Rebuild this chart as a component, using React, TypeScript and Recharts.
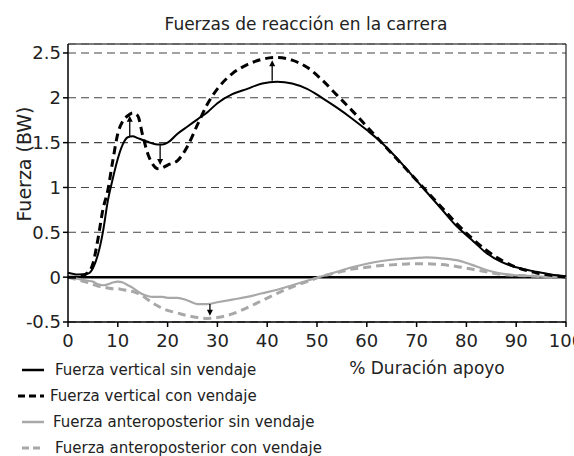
import React from "react";
import { LineChart, Line, XAxis, YAxis, CartesianGrid, ReferenceLine } from "recharts";

// % of stance phase
const pct = [0, 2, 4, 5, 6, 7, 8, 9, 10, 11, 12, 13, 14, 15, 16, 17, 18, 19, 20, 22, 24, 26, 28, 30, 33, 36, 39, 42, 45, 48, 51, 54, 57, 60, 63, 66, 69, 72, 75, 78, 81, 84, 87, 90, 94, 97, 100];

const vertSin = [0.05, 0.03, 0.04, 0.1, 0.25, 0.5, 0.85, 1.1, 1.32, 1.48, 1.56, 1.57, 1.55, 1.53, 1.51, 1.49, 1.48, 1.48, 1.5, 1.6, 1.68, 1.76, 1.84, 1.94, 2.04, 2.1, 2.16, 2.18, 2.16, 2.1, 2.0, 1.89, 1.77, 1.64, 1.5, 1.33, 1.14, 0.95, 0.76, 0.57, 0.42, 0.27, 0.17, 0.11, 0.06, 0.03, 0.01];
const vertCon = [0.0, 0.0, 0.05, 0.15, 0.42, 0.75, 0.97, 1.3, 1.6, 1.74, 1.8, 1.83, 1.8, 1.58, 1.38, 1.26, 1.21, 1.22, 1.25, 1.3, 1.46, 1.7, 1.93, 2.1, 2.27, 2.37, 2.43, 2.45, 2.42, 2.34, 2.2, 2.03, 1.86, 1.68, 1.5, 1.32, 1.14, 0.96, 0.78, 0.6, 0.44, 0.3, 0.19, 0.11, 0.05, 0.02, 0.0];
const apSin = [0, -0.02, -0.04, -0.05, -0.08, -0.09, -0.08, -0.06, -0.05, -0.06, -0.09, -0.12, -0.16, -0.19, -0.21, -0.22, -0.22, -0.22, -0.23, -0.23, -0.26, -0.3, -0.3, -0.28, -0.25, -0.22, -0.18, -0.14, -0.09, -0.04, 0.01, 0.06, 0.11, 0.15, 0.18, 0.2, 0.21, 0.22, 0.21, 0.19, 0.14, 0.08, 0.04, 0.02, 0.01, 0.0, 0];
const apCon = [0, -0.03, -0.06, -0.08, -0.1, -0.11, -0.12, -0.13, -0.13, -0.14, -0.15, -0.16, -0.18, -0.21, -0.25, -0.29, -0.32, -0.35, -0.37, -0.4, -0.43, -0.45, -0.46, -0.45, -0.41, -0.34, -0.26, -0.18, -0.11, -0.05, 0.01, 0.05, 0.09, 0.11, 0.13, 0.14, 0.15, 0.15, 0.14, 0.12, 0.09, 0.06, 0.03, 0.02, 0.01, 0, 0];

// arrows showing the change with taping
const arrowX = [12.4, 18.5, 41, 28.5];
const arrowFrom = [1.57, 1.48, 2.19, -0.3];
const arrowTo = [1.8, 1.25, 2.42, -0.43];

const xTicks = [0, 10, 20, 30, 40, 50, 60, 70, 80, 90, 100];
const yTicks = [-0.5, 0, 0.5, 1, 1.5, 2, 2.5];

const legendLabels = [
  "Fuerza vertical sin vendaje",
  "Fuerza vertical con vendaje",
  "Fuerza anteroposterior sin vendaje",
  "Fuerza anteroposterior con vendaje",
];

const data = pct.map((x, i) => ({
  x,
  vertSin: vertSin[i],
  vertCon: vertCon[i],
  apSin: apSin[i],
  apCon: apCon[i],
}));

const FONT = "'DejaVu Sans', sans-serif";
const GRAY = "#a8a8a8";

const Arrow = (props: any) => {
  const { x1, y1, x2, y2 } = props;
  const dir = y2 < y1 ? -1 : 1;
  return (
    <g>
      <line x1={x1} y1={y1} x2={x2} y2={y2 - dir * 4} stroke="#000" strokeWidth={1.3} />
      <polygon points={`${x2},${y2} ${x2 - 3},${y2 - dir * 6} ${x2 + 3},${y2 - dir * 6}`} fill="#000" />
    </g>
  );
};

const legendStyles = [
  { color: "#000", dash: undefined, width: 2.5, textX: 55 },
  { color: "#000", dash: "7 4", width: 3, textX: 50 },
  { color: GRAY, dash: undefined, width: 2.5, textX: 53 },
  { color: GRAY, dash: "7 4", width: 3, textX: 55 },
];

export default function App() {
  return (
    <div style={{ position: "absolute", left: 0, top: 0, width: 574, height: 456, background: "#fff", fontFamily: FONT, color: "#222", overflow: "hidden" }}>
      <div style={{ position: "absolute", left: 306, top: 24, transform: "translate(-50%, -50%)", fontSize: 17, whiteSpace: "nowrap", lineHeight: 1 }}>
        Fuerzas de reacción en la carrera
      </div>
      <LineChart width={574} height={360} data={data} margin={{ top: 44, right: 8, left: 0, bottom: 8 }}>
        <CartesianGrid vertical={false} stroke="#444" strokeDasharray="8 5" strokeWidth={1.1} />
        <XAxis
          dataKey="x"
          type="number"
          domain={[0, 100]}
          ticks={xTicks}
          height={30}
          tickSize={5}
          tickMargin={7}
          stroke="#000"
          strokeWidth={1.5}
          tick={{ fill: "#222", fontSize: 18, fontFamily: FONT }}
          interval={0}
        />
        <YAxis
          type="number"
          domain={[-0.5, 2.6]}
          ticks={yTicks}
          width={68}
          tickSize={5}
          stroke="#000"
          strokeWidth={1.5}
          allowDataOverflow
          tick={{ fill: "#222", fontSize: 18, fontFamily: FONT }}
          interval={0}
        />
        <ReferenceLine y={2.6} stroke="#555" strokeWidth={1.5} />
        <ReferenceLine x={100} stroke="#222" strokeWidth={1.2} />
        <ReferenceLine y={0} stroke="#000" strokeWidth={2.5} />
        <Line type="monotone" dataKey="apSin" stroke={GRAY} strokeWidth={2.2} dot={false} isAnimationActive={false} />
        <Line type="monotone" dataKey="apCon" stroke={GRAY} strokeWidth={3} strokeDasharray="8 5" dot={false} isAnimationActive={false} />
        <Line type="monotone" dataKey="vertSin" stroke="#000" strokeWidth={2} dot={false} isAnimationActive={false} />
        <Line type="monotone" dataKey="vertCon" stroke="#000" strokeWidth={3} strokeDasharray="8 5" dot={false} isAnimationActive={false} />
        {arrowX.map((ax, i) => (
          <ReferenceLine
            key={`arrow-${i}`}
            segment={[{ x: ax, y: arrowFrom[i] }, { x: ax, y: arrowTo[i] }]}
            shape={(p: any) => <Arrow {...p} />}
          />
        ))}
      </LineChart>
      <div style={{ position: "absolute", left: 24, top: 164, transform: "translate(-50%, -50%) rotate(-90deg)", fontSize: 19, whiteSpace: "nowrap", lineHeight: 1 }}>
        Fuerza (BW)
      </div>
      <div style={{ position: "absolute", left: 427, top: 368, transform: "translate(-50%, -50%)", fontSize: 17, whiteSpace: "nowrap", lineHeight: 1 }}>
        % Duración apoyo
      </div>
      {legendLabels.map((label, i) => {
        const s = legendStyles[i];
        const cy = 370 + i * 26;
        return (
          <div key={label}>
            <svg style={{ position: "absolute", left: 18, top: cy - 5 }} width={28} height={10}>
              <line x1={i === 1 ? 0 : 4} y1={5} x2={26} y2={5} stroke={s.color} strokeWidth={s.width} strokeDasharray={s.dash} />
            </svg>
            <div style={{ position: "absolute", left: s.textX, top: cy, transform: "translateY(-50%)", fontSize: 15, whiteSpace: "nowrap", lineHeight: 1 }}>
              {label}
            </div>
          </div>
        );
      })}
    </div>
  );
}
